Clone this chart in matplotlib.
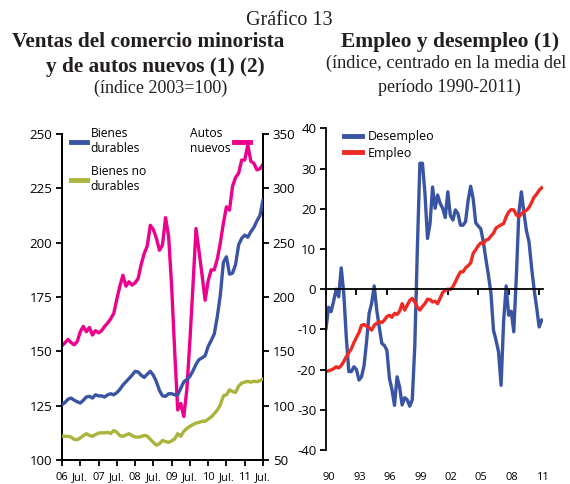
import matplotlib
matplotlib.use('Agg')
import matplotlib.pyplot as plt
import matplotlib.transforms as mtransforms
import numpy as np

plt.rcParams['font.family'] = ['Open Sans', 'DejaVu Sans']
plt.rcParams['axes.unicode_minus'] = False

# ---- left panel data: monthly, Jan 2006 .. Jul 2011 ----
autos_nuevos = [155, 158, 161, 158, 156, 159, 168, 173, 168, 172, 165, 169,
                167, 169, 173, 176, 180, 185, 198, 210, 220, 210, 214, 211,
                213, 217, 230, 240, 247, 266, 262, 254, 243, 248, 273, 256,
                210, 150, 96, 102, 90, 115, 160, 210, 263, 242, 220, 197,
                215, 225, 225, 235, 250, 268, 283, 280, 302, 310, 314, 326,
                326, 340, 325, 323, 317, 318, 322]
bienes_durables = [125.4, 126.5, 128, 128.5, 127.5, 126.8, 126.2, 127.5, 129, 129.3, 128.5, 130,
                   129.5, 129.5, 129, 130, 130.5, 130, 131, 132.5, 134.5, 136, 137.5, 139,
                   140.8, 140.5, 139, 138, 139.5, 140.8, 139, 136, 132, 129.5, 129.3, 130.5,
                   130.5, 130, 130, 133, 136, 137, 138.5, 141, 144, 146.2, 147, 148,
                   152.3, 155, 158, 166, 176, 191, 193.5, 185.5, 186, 190, 199, 202,
                   203.5, 202.5, 205, 207, 210, 212.5, 219.5]
bienes_no_durables = [110.9, 110.9, 110.9, 110.5, 109.5, 109.3, 110.2, 111.2, 112.1, 111.3, 110.9, 111.7,
                      112.4, 112.5, 112.5, 112.7, 112.2, 113.6, 112.8, 111.2, 110.9, 111.5, 112.1, 111.2,
                      110.6, 110.5, 110.8, 111.3, 111.0, 109.5, 108.1, 106.8, 107.5, 109, 108.5, 108.1,
                      108.8, 109.7, 112.1, 110.9, 113.2, 114.5, 115.5, 116.3, 117.0, 117.3, 117.8, 117.8,
                      118.8, 119.8, 121.3, 123, 125.4, 129.5, 130, 132.3, 131.5, 131.1, 134, 135.4,
                      135.8, 136.2, 135.8, 136.2, 136, 136.5, 137.3]
meses = np.arange(len(bienes_durables))
etiquetas_x_izq = ['06', 'Jul.', '07', 'Jul.', '08', 'Jul.', '09', 'Jul.', '10', 'Jul.', '11', 'Jul.']

# ---- right panel data: quarterly, 1990Q1 .. 2011Q2 ----
desempleo = [-9.8, -4.5, -5.6, -3.0, 0.0, -1.9, 5.3, -1.0,
             -12.0, -20.5, -20.5, -19.3, -20.0, -22.6, -21.8, -19.0,
             -13.0, -6.0, -3.5, 0.8, -5.2, -9.5, -13.5, -14.0,
             -15.2, -22.2, -25.0, -28.9, -21.8, -24.3, -28.8, -27.0,
             -27.5, -29.1, -27.5, -14.0, 10.0, 31.3, 31.3, 23.8,
             12.6, 16.3, 25.4, 20.1, 23.4, 21.3, 20.1, 17.8,
             24.2, 18.3, 17.2, 19.7, 18.8, 15.9, 15.9, 16.8,
             22.0, 25.6, 22.5, 16.5, 15.7, 15.0, 11.8, 7.5,
             3.5, -1.0, -10.2, -12.7, -15.6, -23.9, -8.0, 0.8,
             -6.5, -5.5, -10.6, 3.0, 19.0, 24.2, 19.0, 14.5,
             11.8, 5.5, 0.0, -4.5, -9.4, -7.7]
empleo = [-20.5, -20.3, -20.1, -19.8, -19.3, -19.6, -19.0, -18.0,
          -16.8, -15.8, -14.8, -13.3, -12.0, -10.8, -9.0, -8.8,
          -9.2, -9.6, -10.2, -9.0, -8.5, -8.1, -8.3, -7.7,
          -6.8, -6.5, -7.0, -6.0, -6.3, -5.5, -3.6, -5.2,
          -4.0, -2.8, -2.3, -3.2, -4.5, -5.2, -4.3, -3.6,
          -2.5, -2.6, -3.2, -3.0, -3.6, -2.2, -0.8, -0.3,
          0.0, -0.1, 0.6, 1.8, 3.2, 4.3, 4.3, 5.3,
          5.8, 6.5, 8.9, 9.8, 10.8, 11.5, 11.3, 12.2,
          12.4, 13.2, 13.9, 15.2, 15.6, 16.0, 16.3, 18.0,
          19.2, 19.8, 19.7, 18.5, 18.0, 18.7, 19.3, 19.6,
          20.3, 21.5, 22.9, 23.6, 24.6, 25.2]
trimestres = 1990 + 0.25 * np.arange(len(desempleo))
anios_der = [1990, 1993, 1996, 1999, 2002, 2005, 2008, 2011]
etiquetas_x_der = ['90', '93', '96', '99', '02', '05', '08', '11']

azul = '#3a54a4'
rosa = '#ec008c'
verde = '#aab43a'
rojo = '#ee2a24'
lw = 2.4

W, H = 570, 484
fig = plt.figure(figsize=(W / 100, H / 100), dpi=100)

# titles (positions in pixels of the baseline)
serif = ['Liberation Serif', 'DejaVu Serif']
def titulo(x, y, txt, size, bold=False):
    fig.text(x / W, 1 - y / H, txt, ha='center', va='baseline', family=serif,
             fontsize=size, fontweight='bold' if bold else 'normal', color='#231f20')

titulo(289, 25, 'Gráfico 13', 14.5)
titulo(148, 47, 'Ventas del comercio minorista', 15.3, True)
titulo(155, 72, 'y de autos nuevos (1) (2)', 15.3, True)
titulo(161, 93, '(índice 2003=100)', 13)
titulo(450, 47, 'Empleo y desempleo (1)', 15.5, True)
titulo(446, 68, '(índice, centrado en la media del', 13.2)
titulo(449, 92, 'período 1990-2011)', 13)

# ---- left panel ----
ax = fig.add_axes([62 / W, 1 - 460 / H, 201 / W, 326 / H])
ax2 = ax.twinx()
l1, = ax.plot(meses, bienes_durables, color=azul, lw=lw, label='Bienes\ndurables', zorder=3)
l2, = ax.plot(meses, bienes_no_durables, color=verde, lw=lw, label='Bienes no\ndurables', zorder=3)
l3, = ax2.plot(meses, autos_nuevos, color=rosa, lw=lw, label='Autos\nnuevos')
ax.set_xlim(0, len(meses) - 1)
ax.set_ylim(100, 250)
ax2.set_ylim(50, 350)
ax.set_yticks([100, 125, 150, 175, 200, 225, 250])
ax2.set_yticks([50, 100, 150, 200, 250, 300, 350])
ax.set_xticks(np.arange(0, 67, 6))
ax.set_xticklabels(etiquetas_x_izq, fontsize=8)
for a in (ax, ax2):
    a.spines['top'].set_visible(False)
    for s in a.spines.values():
        s.set_linewidth(1.3)
    a.tick_params(axis='y', labelsize=9.5, length=4, width=1.3, pad=3)
ax.tick_params(axis='x', length=4, width=1.3, pad=5)
ax.set_zorder(ax2.get_zorder() + 1)
ax.patch.set_visible(False)

leg = ax.legend(handles=[l1, l2], loc='upper left', bbox_to_anchor=(-0.01, 1.055), frameon=False,
                fontsize=8.7, handlelength=1.35, handletextpad=0.3, labelspacing=0.85)
for h in leg.get_lines():
    h.set_linewidth(3.5)
leg2 = ax2.legend(handles=[l3], loc='upper right', bbox_to_anchor=(0.99, 1.055), frameon=False,
                  fontsize=8.7, handlelength=1.35, handletextpad=0.3, markerfirst=False)
for h in leg2.get_lines():
    h.set_linewidth(3.5)

# ---- right panel ----
bx = fig.add_axes([326 / W, 1 - 450 / H, 216.5 / W, 321.7 / H])
bx.plot(trimestres, desempleo, color=azul, lw=lw, label='Desempleo')
bx.plot(trimestres, empleo, color=rojo, lw=lw, label='Empleo')
bx.set_xlim(1990, 2011.33)
bx.set_ylim(-40, 40)
bx.set_yticks(np.arange(-40, 41, 10))
bx.spines['top'].set_visible(False)
bx.spines['right'].set_visible(False)
bx.spines['bottom'].set_position(('data', 0))
for s in bx.spines.values():
    s.set_linewidth(1.3)
bx.set_xticks(anios_der)
bx.tick_params(axis='x', labelbottom=False, length=4, width=1.3)
bx.tick_params(axis='y', labelsize=9.5, length=4, width=1.3, pad=3)
trans = mtransforms.blended_transform_factory(bx.transData, bx.transAxes)
for anio, txt in zip(anios_der, etiquetas_x_der):
    bx.text(anio + 0.3, -0.087, txt, transform=trans, ha='center', va='center', fontsize=8)
leg3 = bx.legend(loc='upper left', bbox_to_anchor=(0.03, 1.03), frameon=False, fontsize=9,
                 handlelength=1.5, handletextpad=0.4, labelspacing=0.3)
for h in leg3.get_lines():
    h.set_linewidth(3.5)

fig.savefig('out.png', dpi=100)
